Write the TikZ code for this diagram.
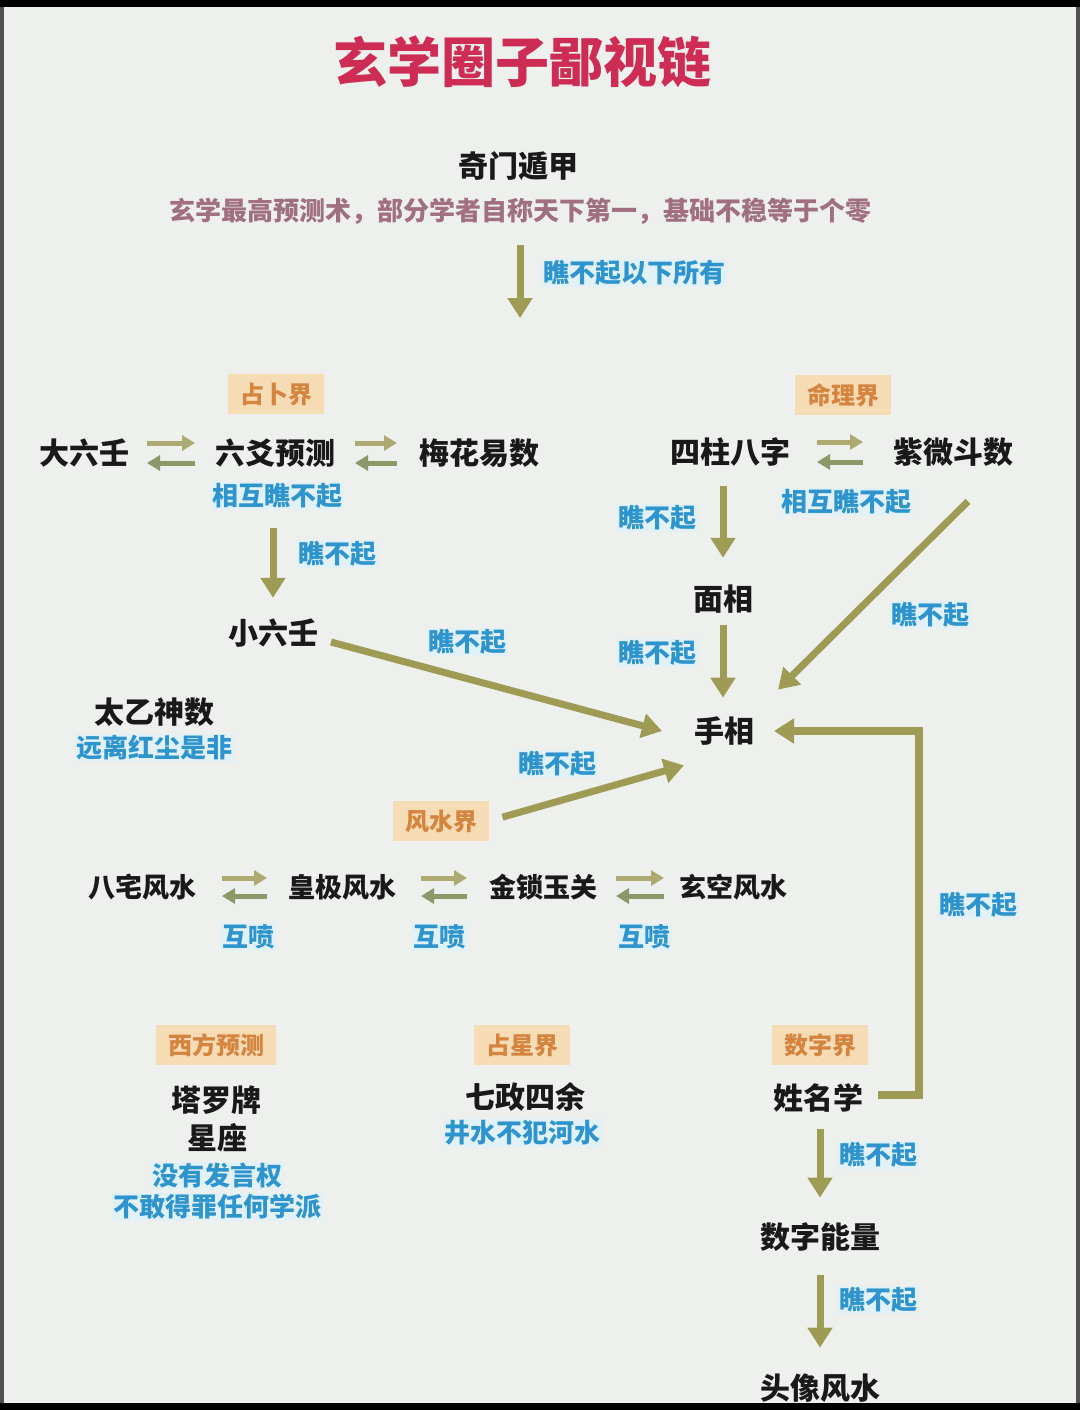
\documentclass[tikz,border=0pt]{standalone}
\usepackage{fontspec}
\setmainfont{Noto Sans CJK SC}
\usetikzlibrary{arrows.meta}
\definecolor{bg}{RGB}{238,240,238}
\definecolor{arrc}{RGB}{158,156,84}
\definecolor{dblup}{RGB}{172,170,112}
\definecolor{dbldn}{RGB}{140,152,104}
\definecolor{bluec}{RGB}{45,148,205}
\definecolor{glowc}{RGB}{226,241,246}
\definecolor{titlec}{RGB}{205,45,85}
\definecolor{subc}{RGB}{160,112,128}
\definecolor{catfill}{RGB}{246,220,180}
\definecolor{cattext}{RGB}{212,132,62}
\definecolor{inkc}{RGB}{25,25,25}
\definecolor{framec}{RGB}{80,80,80}
\begin{document}
\begin{tikzpicture}[x=1pt,y=1pt,
  base/.style={inner sep=0pt, outer sep=0pt},
  term/.style={base, text=inkc, font=\fontsize{30}{34}\selectfont\bfseries},
  fsterm/.style={base, text=inkc, font=\fontsize{27}{31}\selectfont\bfseries},
  note/.style={base, fill=glowc, inner sep=1.5pt, text=bluec, font=\fontsize{26}{30}\selectfont\bfseries},
  cat/.style={base, fill=catfill, text=cattext, font=\fontsize{24}{28}\selectfont\bfseries, inner xsep=12pt, minimum height=40pt},
  titlestyle/.style={base, text=titlec, font=\fontsize{54}{60}\selectfont\bfseries},
  subt/.style={base, text=subc, font=\fontsize{26}{30}\selectfont\bfseries},
  arr/.style={draw=arrc, line width=7pt, -{Triangle[width=24pt,length=20pt]}},
  dblR/.style={draw=dblup, line width=5pt, -{Triangle[width=15pt,length=13pt]}},
  dblL/.style={draw=dbldn, line width=5pt, -{Triangle[width=15pt,length=13pt]}},
]
\useasboundingbox (0,0) rectangle (1080,-1410);
\fill[framec] (0,0) rectangle (1080,-1410);
\fill[bg] (4,-7) rectangle (1076,-1403);

% title
\node[titlestyle] (title) at (522,-62) {玄学圈子鄙视链};
\node[term] (qmdj) at (518,-166) {奇门遁甲};
\node[subt] (sub) at (520,-211) {玄学最高预测术，部分学者自称天下第一，基础不稳等于个零};
\coordinate (below) at (520,-318);
\draw[arr, shorten <=21pt] (sub.south -| below) -- (below);
\node[note] (l0) at (634,-273) {瞧不起以下所有};

% zhanbu
\node[cat] (zb) at (276,-394) {占卜界};
\node[term] (dlr) at (84,-453) {大六壬};
\node[term] (lyyc) at (275,-453) {六爻预测};
\node[term] (mhys) at (479,-453) {梅花易数};
\draw[dblR, shorten <=18pt, shorten >=20pt] ([yshift=10pt]dlr.east) -- ([yshift=10pt]lyyc.west);
\draw[dblL, shorten <=20pt, shorten >=18pt] ([yshift=-10pt]lyyc.west) -- ([yshift=-10pt]dlr.east);
\draw[dblR, shorten <=20pt, shorten >=22pt] ([yshift=10pt]lyyc.east) -- ([yshift=10pt]mhys.west);
\draw[dblL, shorten <=22pt, shorten >=20pt] ([yshift=-10pt]mhys.west) -- ([yshift=-10pt]lyyc.east);
\node[note] (hx1) at (277,-496) {相互瞧不起};
\node[term] (xlr) at (273,-633) {小六壬};
\draw[arr, shorten <=18pt, shorten >=21pt] (hx1.south -| xlr.north) -- (xlr.north);
\node[note] (l1) at (337,-554) {瞧不起};
\node[term] (tyss) at (154,-712) {太乙神数};
\node[note] (yl) at (154,-748) {远离红尘是非};

% mingli
\node[cat] (ml) at (843,-395) {命理界};
\node[term] (szbz) at (730,-452) {四柱八字};
\node[term] (zwds) at (953,-452) {紫微斗数};
\draw[dblR, shorten <=27pt, shorten >=30pt] ([yshift=10pt]szbz.east) -- ([yshift=10pt]zwds.west);
\draw[dblL, shorten <=30pt, shorten >=27pt] ([yshift=-10pt]zwds.west) -- ([yshift=-10pt]szbz.east);
\node[note] (hx2) at (846,-502) {相互瞧不起};
\node[term] (mx) at (723,-599) {面相};
\node[term] (sx) at (724,-731) {手相};
\draw[arr, shorten <=20pt, shorten >=27pt] (szbz.south -| mx.north) -- (mx.north);
\draw[arr, shorten <=12pt, shorten >=19pt] (mx.south) -- (mx.south |- sx.north);
\node[note] (l2) at (657,-518) {瞧不起};
\node[note] (l3) at (657,-653) {瞧不起};
\draw[arr] ([shift={(15,-35)}]zwds.south) -- ([shift={(24,27)}]sx.north east);
\node[note] (l4) at (930,-615) {瞧不起};

% xiaoliuren -> shouxiang
\draw[arr] ([shift={(13,-9)}]xlr.east) -- ([shift={(-32,0)}]sx.west);
\node[note] (l5) at (467,-642) {瞧不起};

% fengshui
\node[cat] (fsj) at (441,-821) {风水界};
\draw[arr, shorten <=14pt] (fsj.east) -- ([shift={(-10,-20)}]sx.south west);
\node[note] (l6) at (557,-764) {瞧不起};
\node[fsterm] (bzfs) at (142,-887) {八宅风水};
\node[fsterm] (hjfs) at (342,-887) {皇极风水};
\node[fsterm] (jsyg) at (543,-887) {金锁玉关};
\node[fsterm] (xkfs) at (733,-887) {玄空风水};
\draw[dblR, shorten <=26pt, shorten >=21pt] ([yshift=9pt]bzfs.east) -- ([yshift=9pt]hjfs.west);
\draw[dblL, shorten <=21pt, shorten >=26pt] ([yshift=-9pt]hjfs.west) -- ([yshift=-9pt]bzfs.east);
\draw[dblR, shorten <=25pt, shorten >=22pt] ([yshift=9pt]hjfs.east) -- ([yshift=9pt]jsyg.west);
\draw[dblL, shorten <=22pt, shorten >=25pt] ([yshift=-9pt]jsyg.west) -- ([yshift=-9pt]hjfs.east);
\draw[dblR, shorten <=19pt, shorten >=15pt] ([yshift=9pt]jsyg.east) -- ([yshift=9pt]xkfs.west);
\draw[dblL, shorten <=15pt, shorten >=19pt] ([yshift=-9pt]xkfs.west) -- ([yshift=-9pt]jsyg.east);
\node[note] (hp1) at (248,-937) {互喷};
\node[note] (hp2) at (439,-937) {互喷};
\node[note] (hp3) at (644,-937) {互喷};

% bottom categories
\node[cat] (xf) at (216,-1045) {西方预测};
\node[cat] (zx) at (522,-1045) {占星界};
\node[cat] (sz) at (820,-1045) {数字界};
\node[term] (tlp) at (216,-1100) {塔罗牌};
\node[term] (xz) at (217,-1138) {星座};
\node[note] (n1) at (217,-1176) {没有发言权};
\node[note] (n2) at (217,-1207) {不敢得罪任何学派};
\node[term] (qzsy) at (525,-1097) {七政四余};
\node[note] (jsbf) at (522,-1133) {井水不犯河水};

% shuzi
\node[term] (xmx) at (818,-1098) {姓名学};
\node[term] (szn) at (820,-1237) {数字能量};
\node[term] (txfs) at (820,-1388) {头像风水};
\coordinate (elbow) at (919,-731);
\draw[arr, line width=8pt, shorten <=15pt, shorten >=20pt] ([yshift=3pt]xmx.east) -| (elbow) -- (sx.east);
\node[note] (l7) at (978,-905) {瞧不起};
\draw[arr, shorten <=17pt, shorten >=25pt] (xmx.south -| szn.north) -- (szn.north);
\node[note] (l8) at (878,-1155) {瞧不起};
\draw[arr, shorten <=24pt, shorten >=26pt] (szn.south) -- (txfs.north);
\node[note] (l9) at (878,-1300) {瞧不起};

% frame bands
\fill[black] (0,-1403) rectangle (1080,-1410);
\fill[black] (0,0) rectangle (1080,-7);
\end{tikzpicture}
\end{document}
